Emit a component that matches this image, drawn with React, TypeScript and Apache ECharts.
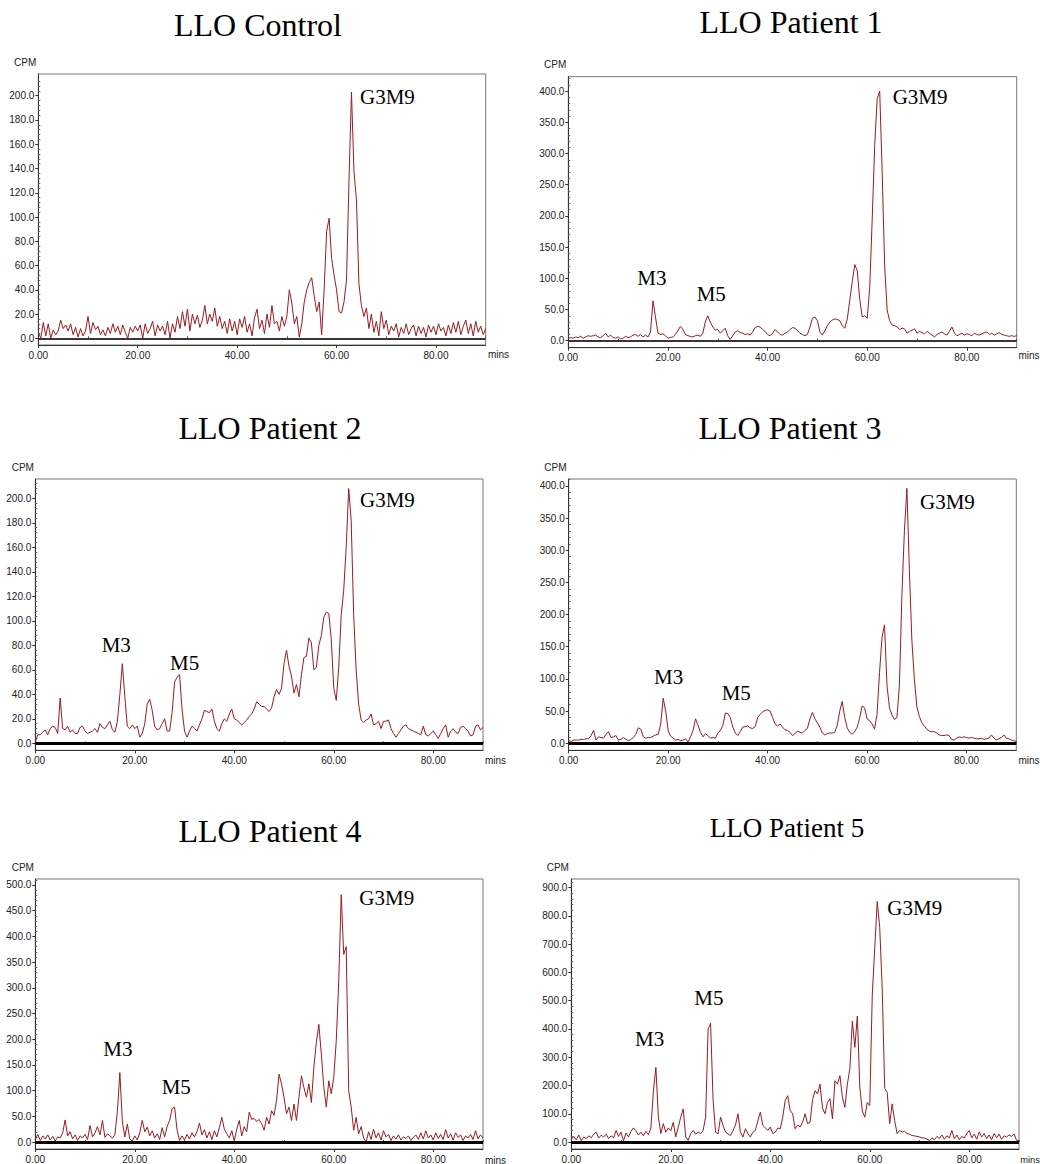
import React, { useEffect, useRef } from "react";
import * as echarts from "echarts";

// sampling step of every trace, in minutes (x = index * STEP)
const STEP = 0.5;

const TITLES = ["LLO Control", "LLO Patient 1", "LLO Patient 2", "LLO Patient 3", "LLO Patient 4", "LLO Patient 5"];

const X_TICKS = [0, 20, 40, 60, 80];
const X_MINOR = [10, 30, 50, 70, 90];

const Y_TICKS_200 = [0, 20, 40, 60, 80, 100, 120, 140, 160, 180, 200];
const Y_MINOR_200 = [4, 8, 12, 16, 24, 28, 32, 36, 44, 48, 52, 56, 64, 68, 72, 76, 84, 88, 92, 96, 104, 108, 112, 116, 124, 128, 132, 136, 144, 148, 152, 156, 164, 168, 172, 176, 184, 188, 192, 196, 204, 208, 212];
const Y_TICKS_400 = [0, 50, 100, 150, 200, 250, 300, 350, 400];
const Y_MINOR_400 = [10, 20, 30, 40, 60, 70, 80, 90, 110, 120, 130, 140, 160, 170, 180, 190, 210, 220, 230, 240, 260, 270, 280, 290, 310, 320, 330, 340, 360, 370, 380, 390, 410, 420];
const Y_TICKS_500 = [0, 50, 100, 150, 200, 250, 300, 350, 400, 450, 500];
const Y_MINOR_500 = [10, 20, 30, 40, 60, 70, 80, 90, 110, 120, 130, 140, 160, 170, 180, 190, 210, 220, 230, 240, 260, 270, 280, 290, 310, 320, 330, 340, 360, 370, 380, 390, 410, 420, 430, 440, 460, 470, 480, 490, 510];
const Y_TICKS_900 = [0, 100, 200, 300, 400, 500, 600, 700, 800, 900];
const Y_MINOR_900 = [20, 40, 60, 80, 120, 140, 160, 180, 220, 240, 260, 280, 320, 340, 360, 380, 420, 440, 460, 480, 520, 540, 560, 580, 620, 640, 660, 680, 720, 740, 760, 780, 820, 840, 860, 880, 920];

// CPM values, one every 0.5 min from 0.00 to 90.00
const CONTROL = [
  5, 0, 13, 2, 12, 0, 7, 3, 6, 15, 8, 11, 6, 12, 3, 9, 1, 8, 2, 6,
  18, 4, 13, 7, 10, 3, 7, 2, 9, 4, 12, 5, 10, 3, 11, 5, 0, 9, 5, 10,
  6, 11, 0, 12, 4, 8, 14, 2, 11, 6, 10, 3, 14, 0, 12, 5, 18, 8, 22, 10,
  24, 6, 20, 12, 19, 9, 15, 27, 12, 20, 14, 25, 10, 18, 8, 14, 4, 16, 6, 14,
  3, 16, 9, 18, 5, 12, 2, 17, 24, 8, 15, 4, 20, 9, 27, 12, 14, 6, 18, 10,
  18, 40, 29, 12, 18, 1, 12, 30, 40, 46, 50, 35, 22, 30, 3, 40, 88, 99, 66, 52,
  40, 22, 21, 30, 48, 130, 203, 138, 114, 45, 27, 18, 25, 8, 20, 5, 14, 2, 22, 8,
  15, 3, 10, 6, 12, 1, 9, 4, 12, 3, 8, 11, 2, 10, 4, 9, 1, 11, 5, 10,
  3, 12, 6, 9, 2, 11, 4, 13, 5, 14, 3, 10, 15, 4, 12, 2, 14, 5, 10, 3,
  8,
];

const PATIENT1 = [
  4, 5, 4, 6, 5, 7, 4, 6, 8, 7, 8, 9, 6, 5, 8, 12, 6, 9, 5, 4,
  6, 3, 4, 7, 5, 6, 9, 10, 7, 10, 6, 9, 6, 14, 64, 38, 12, 10, 11, 8,
  4, 5, 6, 10, 16, 23, 18, 10, 8, 7, 6, 8, 9, 7, 12, 30, 40, 30, 22, 17,
  18, 12, 16, 20, 8, 2, 8, 14, 16, 13, 12, 10, 11, 9, 14, 21, 23, 22, 18, 15,
  10, 8, 12, 18, 14, 10, 9, 12, 14, 18, 21, 20, 16, 12, 10, 8, 10, 22, 36, 38,
  32, 14, 9, 16, 24, 30, 33, 35, 34, 32, 24, 20, 35, 65, 95, 122, 112, 66, 38, 40,
  36, 85, 195, 313, 388, 400, 270, 120, 49, 32, 25, 24, 22, 18, 20, 19, 12, 15, 17, 19,
  12, 15, 13, 11, 15, 12, 9, 6, 10, 12, 14, 11, 9, 15, 22, 12, 8, 10, 12, 9,
  11, 10, 8, 12, 10, 9, 11, 13, 14, 10, 12, 9, 11, 13, 10, 9, 8, 7, 8, 7,
  8,
];

const PATIENT2 = [
  1, 7, 7, 9, 11, 7, 12, 14, 13, 8, 37, 12, 11, 14, 9, 11, 8, 8, 13, 14,
  10, 8, 9, 10, 12, 9, 16, 13, 12, 15, 18, 11, 9, 18, 40, 65, 38, 14, 12, 15,
  12, 14, 5, 8, 16, 32, 36, 27, 14, 11, 12, 16, 20, 10, 10, 25, 50, 54, 56, 28,
  10, 5, 10, 14, 12, 10, 15, 20, 27, 26, 25, 28, 18, 12, 10, 16, 20, 18, 24, 28,
  20, 19, 17, 15, 17, 19, 22, 24, 28, 34, 32, 30, 30, 28, 26, 29, 38, 44, 40, 45,
  65, 76, 63, 55, 41, 48, 38, 56, 70, 71, 86, 82, 60, 62, 80, 88, 103, 107, 106, 85,
  45, 35, 62, 105, 125, 160, 208, 182, 105, 60, 32, 19, 17, 19, 20, 24, 15, 16, 18, 12,
  18, 18, 19, 12, 8, 5, 8, 11, 14, 15, 12, 11, 10, 9, 8, 7, 14, 7, 6, 8,
  10, 7, 4, 8, 12, 15, 5, 10, 12, 9, 8, 13, 14, 12, 10, 6, 7, 14, 15, 11,
  13,
];

const PATIENT3 = [
  4, 3, 5, 5, 5, 6, 6, 7, 7, 12, 20, 5, 10, 9, 8, 14, 18, 9, 10, 12,
  5, 6, 9, 6, 4, 6, 9, 14, 24, 22, 10, 8, 9, 9, 11, 13, 14, 30, 70, 50,
  20, 11, 8, 5, 6, 4, 5, 7, 2, 10, 20, 38, 28, 17, 10, 15, 12, 8, 9, 8,
  16, 20, 28, 47, 46, 40, 25, 16, 12, 18, 25, 26, 27, 24, 23, 26, 40, 45, 49, 51,
  52, 50, 40, 30, 27, 30, 25, 21, 20, 17, 12, 15, 19, 17, 16, 20, 23, 38, 48, 38,
  32, 25, 16, 13, 15, 16, 16, 17, 28, 50, 65, 40, 24, 17, 14, 18, 25, 39, 58, 55,
  38, 35, 30, 22, 45, 110, 165, 184, 90, 55, 44, 37, 40, 90, 231, 330, 396, 270, 160, 100,
  57, 42, 32, 27, 22, 19, 18, 18, 16, 13, 12, 12, 13, 12, 6, 5, 8, 10, 9, 10,
  9, 8, 9, 8, 7, 7, 8, 6, 7, 8, 13, 8, 5, 7, 9, 13, 8, 7, 5, 4,
  3,
];

const PATIENT4 = [
  5, 15, 3, 12, 6, 14, 4, 11, 2, 10, 8, 18, 43, 12, 20, 6, 14, 3, 12, 8,
  15, 5, 32, 10, 18, 30, 14, 42, 9, 16, 12, 8, 14, 60, 135, 40, 10, 35, 6, 2,
  12, 4, 18, 42, 20, 29, 12, 22, 8, 16, 5, 28, 10, 30, 42, 65, 68, 23, 3, 12,
  4, 15, 6, 18, 10, 20, 37, 14, 24, 8, 20, 5, 22, 10, 28, 48, 25, 16, 8, 22,
  2, 25, 42, 12, 30, 20, 58, 44, 46, 40, 44, 36, 23, 48, 35, 61, 52, 81, 132, 113,
  87, 55, 68, 42, 74, 42, 87, 129, 106, 87, 113, 77, 145, 194, 229, 171, 106, 68, 119, 94,
  126, 197, 313, 481, 365, 380, 100, 68, 23, 48, 16, 30, 8, 0, 20, 5, 25, 8, 18, 4,
  22, 10, 15, 3, 12, 6, 14, 4, 10, 7, 12, 3, 9, 14, 5, 18, 6, 22, 8, 14,
  4, 18, 7, 15, 5, 24, 8, 16, 4, 18, 9, 14, 3, 12, 8, 15, 5, 22, 6, 14,
  8,
];

const PATIENT5 = [
  10, 20, 8, 25, 5, 18, 12, 22, 15, 28, 35, 14, 24, 18, 28, 12, 22, 15, 41, 20,
  35, 5, 32, 18, 38, 50, 40, 25, 35, 22, 38, 26, 50, 180, 264, 90, 30, 65, 35, 50,
  40, 70, 18, 53, 88, 117, 18, 6, 30, 41, 28, 35, 30, 41, 88, 400, 420, 150, 35, 29,
  88, 59, 35, 29, 23, 40, 60, 100, 35, 18, 47, 30, 18, 35, 41, 75, 106, 59, 50, 41,
  53, 30, 35, 50, 47, 88, 147, 164, 112, 100, 47, 60, 53, 70, 100, 65, 70, 150, 182, 170,
  205, 120, 100, 140, 153, 82, 217, 205, 235, 158, 123, 205, 260, 428, 335, 446, 194, 110, 88, 140,
  129, 520, 687, 851, 760, 546, 190, 176, 65, 135, 76, 30, 41, 35, 38, 30, 28, 23, 22, 20,
  18, 15, 14, 10, 6, 15, 8, 20, 12, 25, 10, 22, 15, 41, 12, 25, 8, 20, 14, 30,
  41, 15, 28, 10, 35, 18, 30, 12, 25, 8, 30, 15, 28, 10, 22, 18, 25, 20, 29, 6,
  5,
];

const SERIES = [CONTROL, PATIENT1, PATIENT2, PATIENT3, PATIENT4, PATIENT5];
const Y_TICKS = [Y_TICKS_200, Y_TICKS_400, Y_TICKS_200, Y_TICKS_400, Y_TICKS_500, Y_TICKS_900];
const Y_MINOR = [Y_MINOR_200, Y_MINOR_400, Y_MINOR_200, Y_MINOR_400, Y_MINOR_500, Y_MINOR_900];
const Y_RANGE = [
  [-5.5, 217.9],
  [-11.2, 423.1],
  [-5.7, 215.8],
  [-10.9, 410.6],
  [-13.5, 511.6],
  [-24.6, 930.6],
];
const PEAK_NAMES = ["G3M9", "M3", "M5"];

// layout (pixels)
const GRIDS = [
  { left: 38.3, top: 74, width: 447.4, height: 271 },
  { left: 568.3, top: 76.7, width: 448.4, height: 271 },
  { left: 35.3, top: 479, width: 447.7, height: 271.3 },
  { left: 568.7, top: 479, width: 447.6, height: 271.3 },
  { left: 35.3, top: 879, width: 447.7, height: 271.3 },
  { left: 571.3, top: 879, width: 447.7, height: 271.3 },
];
const TITLE_POS = [[258, 25], [791, 22], [270, 428], [790, 428], [270, 831], [787, 828]];
const TITLE_SIZE = [32, 32, 32, 32, 32, 27];
const CPM_POS = [[14, 62], [544, 64], [11.7, 467], [544.3, 467], [11.7, 867], [546.7, 867]];
const MINS_POS = [[488, 354.5], [1018.5, 355.5], [485, 760], [1018.5, 760], [485, 1160], [1020.3, 1160]];
const MINS_SIZE = [10, 10, 10, 10, 10, 9.3];
const LABEL_POS = [
  [[360, 97]],
  [[892.7, 97], [637.3, 277.5], [696.7, 294]],
  [[360, 500], [101.7, 644.7], [170, 663]],
  [[920, 501.7], [654, 677], [721.7, 693]],
  [[359.3, 898.3], [103.3, 1049], [161.7, 1087]],
  [[887.3, 908], [635, 1039], [694.3, 998]],
];
const BASELINE_STYLE = [
  { color: "#3a3342", width: 2 },
  { color: "#3a3342", width: 2 },
  { color: "#000000", width: 3 },
  { color: "#000000", width: 3 },
  { color: "#000000", width: 3 },
  { color: "#000000", width: 3 },
];

const SANS = "'Liberation Sans', Arial, sans-serif";
const SERIF = "'Liberation Serif', 'Times New Roman', serif";
const TRACE = "#981b1f";

function buildOption() {
  const grid: any[] = [];
  const xAxis: any[] = [];
  const yAxis: any[] = [];
  const series: any[] = [];
  const graphic: any[] = [];

  SERIES.forEach((values, g) => {
    const gr = GRIDS[g];
    grid.push({ ...gr, show: true, borderColor: "#777", borderWidth: 1, containLabel: false });

    xAxis.push({
      type: "value", gridIndex: g, min: 0, max: 90,
      axisLine: { show: true, onZero: false, lineStyle: { color: "#333", width: 1 } },
      axisTick: { show: true, length: 3, customValues: X_TICKS, lineStyle: { color: "#333" } },
      axisLabel: { customValues: X_TICKS, formatter: (v: number) => Number(v).toFixed(2), fontSize: 10, fontFamily: SANS, color: "#222", margin: 5 },
      splitLine: { show: false },
    });
    xAxis.push({
      type: "value", gridIndex: g, min: 0, max: 90,
      axisLine: { show: false },
      axisTick: { show: true, length: 2, customValues: X_MINOR, lineStyle: { color: "#555" } },
      axisLabel: { show: false },
      splitLine: { show: false },
    });

    const [ymin, ymax] = Y_RANGE[g];
    yAxis.push({
      type: "value", gridIndex: g, min: ymin, max: ymax,
      axisLine: { show: true, onZero: false, lineStyle: { color: "#333", width: 1 } },
      axisTick: { show: true, length: 3, customValues: Y_TICKS[g], lineStyle: { color: "#333" } },
      axisLabel: { customValues: Y_TICKS[g], formatter: (v: number) => Number(v).toFixed(1), fontSize: 10, fontFamily: SANS, color: "#222", margin: 4 },
      splitLine: { show: false },
    });
    yAxis.push({
      type: "value", gridIndex: g, min: ymin, max: ymax,
      axisLine: { show: false },
      axisTick: { show: true, length: 2, customValues: Y_MINOR[g], lineStyle: { color: "#666" } },
      axisLabel: { show: false },
      splitLine: { show: false },
    });

    series.push({
      type: "line",
      xAxisIndex: 2 * g,
      yAxisIndex: 2 * g,
      data: values.map((v, i) => [i * STEP, v]),
      symbol: "none",
      showSymbol: false,
      lineStyle: { color: TRACE, width: 1 },
      silent: true,
      markLine: {
        silent: true,
        symbol: ["none", "none"],
        label: { show: false },
        data: [{ yAxis: 0 }],
        lineStyle: { ...BASELINE_STYLE[g], type: "solid" },
      },
    });

    graphic.push({
      type: "text", x: TITLE_POS[g][0], y: TITLE_POS[g][1],
      style: { text: TITLES[g], fontSize: TITLE_SIZE[g], fontFamily: SERIF, fill: "#000", align: "center", verticalAlign: "middle" },
    });
    graphic.push({
      type: "text", x: CPM_POS[g][0], y: CPM_POS[g][1],
      style: { text: "CPM", fontSize: 10, fontFamily: SANS, fill: "#222", align: "left", verticalAlign: "middle" },
    });
    graphic.push({
      type: "text", x: MINS_POS[g][0], y: MINS_POS[g][1],
      style: { text: "mins", fontSize: MINS_SIZE[g], fontFamily: SANS, fill: "#222", align: "left", verticalAlign: "middle" },
    });
    LABEL_POS[g].forEach((p, k) => {
      graphic.push({
        type: "text", x: p[0], y: p[1],
        style: { text: PEAK_NAMES[k], fontSize: 21, fontFamily: SERIF, fill: "#000", align: "left", verticalAlign: "middle" },
      });
    });
  });

  return { animation: false, backgroundColor: "#fff", grid, xAxis, yAxis, series, graphic };
}

export default function App() {
  const ref = useRef<HTMLDivElement>(null);
  useEffect(() => {
    if (!ref.current) return;
    const chart = echarts.init(ref.current, undefined, { renderer: "svg" });
    chart.setOption(buildOption() as any);
    return () => chart.dispose();
  }, []);
  return (
    <div
      ref={ref}
      style={{ position: "absolute", left: 0, top: 0, width: 1040, height: 1164, background: "#fff" }}
    />
  );
}
